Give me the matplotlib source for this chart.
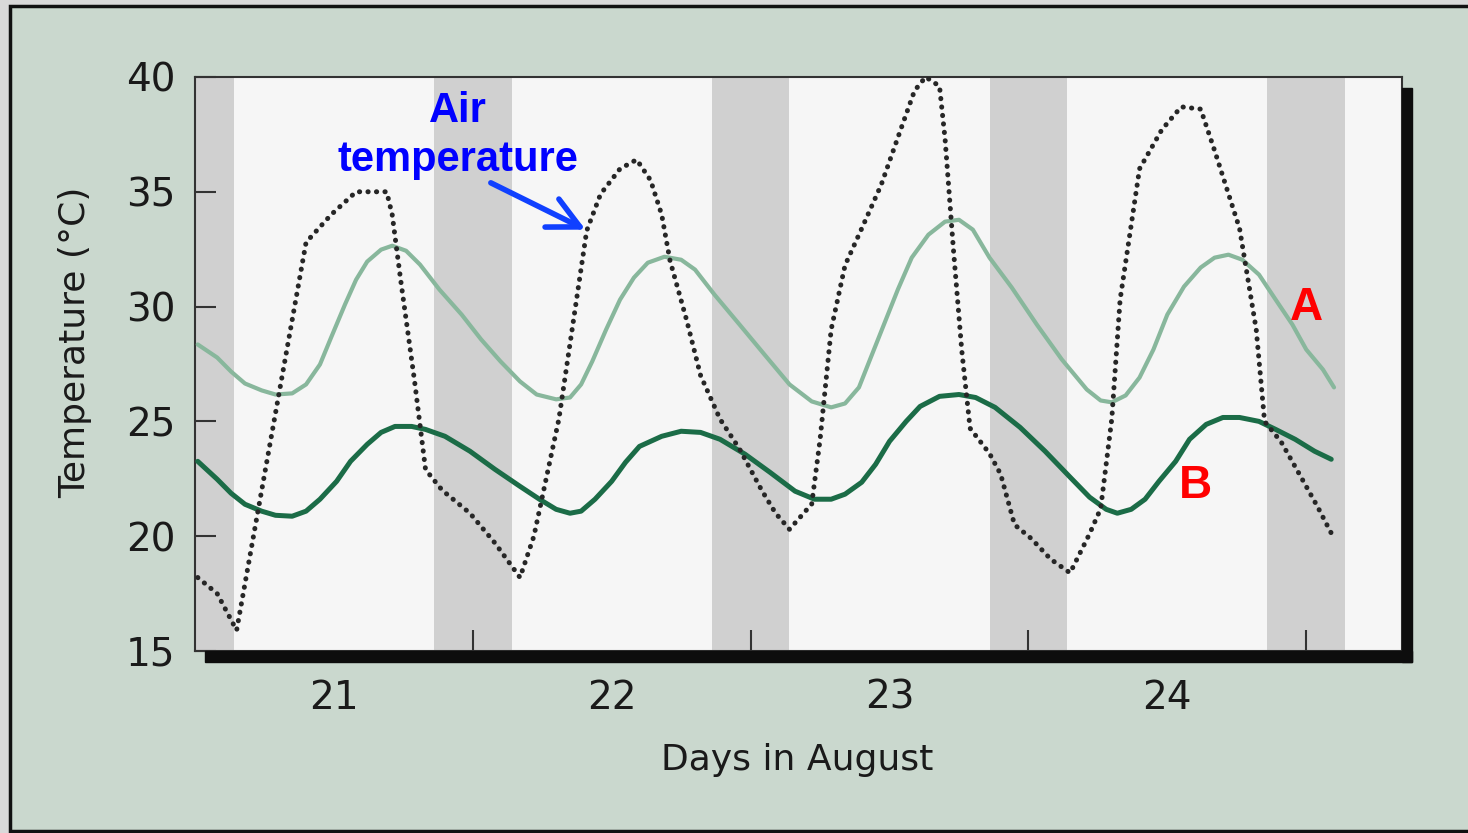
import matplotlib.pyplot as plt
from matplotlib.patches import Rectangle

# Data (x in days of August, y in deg C)
air_day = [21.01, 21.08, 21.15, 21.40, 21.49, 21.58, 21.69, 21.71, 21.74, 21.79,
           21.83, 21.89, 21.99, 22.08, 22.17, 22.22, 22.31, 22.41, 22.46, 22.53,
           22.59, 22.64, 22.68, 22.71, 22.77, 22.82, 22.89, 22.96, 23.04, 23.09,
           23.14, 23.22, 23.25, 23.29, 23.34, 23.40, 23.47, 23.54, 23.59, 23.63,
           23.68, 23.70, 23.73, 23.76, 23.79, 23.86, 23.90, 23.95, 24.01, 24.08,
           24.15, 24.22, 24.26, 24.30, 24.33, 24.40, 24.48, 24.55, 24.62, 24.67,
           24.76, 24.82, 24.85, 24.91, 24.98, 25.04, 25.10]
air_temp = [18.2, 17.5, 15.9, 32.8, 34.0, 35.0, 35.0, 34.0, 31.2, 26.8,
            22.9, 22.0, 21.0, 19.7, 18.2, 20.0, 25.1, 33.3, 34.9, 36.0,
            36.4, 35.5, 34.0, 32.0, 29.4, 27.0, 25.1, 23.8, 22.0, 21.0,
            20.3, 21.4, 24.2, 29.0, 31.8, 33.4, 35.3, 37.7, 39.4, 40.0,
            39.6, 37.3, 32.5, 28.1, 24.7, 23.6, 22.7, 20.5, 19.9, 19.0,
            18.4, 20.1, 21.2, 25.1, 30.3, 36.0, 37.7, 38.7, 38.6, 36.8,
            33.4, 29.0, 25.0, 24.1, 22.6, 21.3, 19.9]

a_day = [21.01, 21.08, 21.13, 21.18, 21.24, 21.29, 21.35, 21.40, 21.45, 21.49,
         21.54, 21.58, 21.62, 21.67, 21.71, 21.76, 21.81, 21.88, 21.96, 22.03,
         22.10, 22.17, 22.23, 22.30, 22.35, 22.39, 22.43, 22.48, 22.53, 22.58,
         22.63, 22.69, 22.75, 22.80, 22.87, 22.96, 23.05, 23.14, 23.22, 23.29,
         23.34, 23.39, 23.43, 23.48, 23.53, 23.58, 23.64, 23.70, 23.75, 23.80,
         23.86, 23.94, 24.03, 24.12, 24.21, 24.26, 24.30, 24.35, 24.40, 24.45,
         24.50, 24.56, 24.62, 24.67, 24.72, 24.77, 24.83, 24.89, 24.95, 25.00,
         25.06, 25.10]
a_temp = [28.35, 27.78, 27.17, 26.65, 26.35, 26.17, 26.22, 26.61, 27.48, 28.65,
          30.09, 31.17, 31.96, 32.48, 32.65, 32.43, 31.83, 30.74, 29.65, 28.57,
          27.61, 26.74, 26.17, 25.96, 26.04, 26.61, 27.61, 29.00, 30.30, 31.26,
          31.91, 32.17, 32.04, 31.61, 30.52, 29.22, 27.91, 26.61, 25.87, 25.61,
          25.78, 26.48, 27.70, 29.22, 30.74, 32.13, 33.13, 33.70, 33.78, 33.35,
          32.13, 30.83, 29.22, 27.70, 26.39, 25.91, 25.83, 26.13, 26.91, 28.13,
          29.65, 30.87, 31.70, 32.13, 32.26, 32.04, 31.39, 30.30, 29.22, 28.13,
          27.26, 26.48]

b_day = [21.01, 21.08, 21.13, 21.18, 21.24, 21.29, 21.35, 21.40, 21.45, 21.51,
         21.56, 21.62, 21.67, 21.72, 21.78, 21.83, 21.90, 21.99, 22.08, 22.17,
         22.24, 22.30, 22.35, 22.39, 22.44, 22.50, 22.55, 22.60, 22.68, 22.75,
         22.82, 22.89, 22.98, 23.07, 23.16, 23.23, 23.29, 23.34, 23.40, 23.45,
         23.50, 23.56, 23.61, 23.68, 23.75, 23.81, 23.88, 23.97, 24.06, 24.15,
         24.22, 24.28, 24.32, 24.37, 24.42, 24.47, 24.53, 24.58, 24.64, 24.70,
         24.76, 24.83, 24.89, 24.96, 25.03, 25.09]
b_temp = [23.26, 22.48, 21.87, 21.39, 21.09, 20.91, 20.87, 21.09, 21.61, 22.39,
          23.26, 24.00, 24.52, 24.78, 24.78, 24.65, 24.35, 23.70, 22.91, 22.17,
          21.61, 21.17, 21.00, 21.09, 21.61, 22.39, 23.22, 23.91, 24.35, 24.57,
          24.52, 24.22, 23.57, 22.78, 21.96, 21.61, 21.61, 21.83, 22.35, 23.13,
          24.13, 25.00, 25.65, 26.09, 26.17, 26.04, 25.61, 24.74, 23.70, 22.57,
          21.70, 21.17, 21.00, 21.17, 21.61, 22.39, 23.26, 24.22, 24.87, 25.17,
          25.17, 25.00, 24.65, 24.22, 23.70, 23.35]

night_centers = [21, 22, 23, 24, 25]
day_labels = ['21', '22', '23', '24']

fig = plt.figure(figsize=(14.68, 8.33), dpi=100, facecolor='#d9d9d9')
fig.patches.append(Rectangle((0.0068, 0.003), 1.0, 0.99, transform=fig.transFigure,
                             facecolor='#cad8ce', edgecolor='#111111', linewidth=2.5,
                             zorder=-10))

ax = fig.add_axes([0.1328, 0.2185, 0.8223, 0.6891])
ax.set_facecolor('#f6f6f6')

# night bands
for d in night_centers:
    ax.axvspan(d - 0.14, d + 0.14, color='#d0d0d0', lw=0, zorder=0)

ax.plot(a_day, a_temp, color='#88b79c', lw=3.0, zorder=3,
        solid_capstyle='round', solid_joinstyle='round')
ax.plot(b_day, b_temp, color='#1b6c47', lw=3.6, zorder=3,
        solid_capstyle='round', solid_joinstyle='round')
ax.plot(air_day, air_temp, color='#262626', lw=3.6, linestyle=(0, (0.05, 1.65)),
        dash_capstyle='round', zorder=4)

ax.set_xlim(21.0, 25.345)
ax.set_ylim(15, 40)

# labels at noon, tick marks at midnight
ax.set_xticks([21.5, 22.5, 23.5, 24.5])
ax.set_xticklabels(day_labels)
ax.set_xticks([22, 23, 24, 25], minor=True)
ax.tick_params(axis='x', which='major', length=0, pad=20, labelsize=28, labelcolor='#1a1a1a')
ax.tick_params(axis='x', which='minor', direction='in', length=15, width=1.5, color='#333333')
ax.set_yticks([15, 20, 25, 30, 35, 40])
ax.tick_params(axis='y', direction='in', length=15, width=1.5, color='#333333',
               pad=14, labelsize=28, labelcolor='#1a1a1a')

for s in ax.spines.values():
    s.set_color('#333333')
    s.set_linewidth(1.5)

# drop shadow along bottom and right edge
dx = 10 / 1207
dy = 11 / 574
ax.add_patch(Rectangle((dx, -dy), 1.0, dy, transform=ax.transAxes, color='#0d0d0d',
                       clip_on=False, zorder=5))
ax.add_patch(Rectangle((1.0, -dy), dx, 1.0, transform=ax.transAxes, color='#0d0d0d',
                       clip_on=False, zorder=5))

fig.text(0.051, 0.589, 'Temperature (°C)', rotation=90, ha='center', va='center',
         fontsize=26, color='#1a1a1a')
fig.text(0.543, 0.088, 'Days in August', ha='center', va='center',
         fontsize=26, color='#1a1a1a')

# annotations
ax.text(21.946, 37.45, 'Air\ntemperature', ha='center', va='center', fontsize=30,
        fontweight='bold', family='Liberation Sans', color='#0000ff',
        linespacing=1.3, zorder=6)
ax.annotate('', xy=(22.406, 33.35), xytext=(22.065, 35.39),
            arrowprops=dict(arrowstyle='->,head_length=0.9,head_width=0.45',
                            color='#1040ff', lw=4, shrinkA=0, shrinkB=0,
                            mutation_scale=25),
            zorder=6)
ax.text(25.0, 29.95, 'A', color='#ff0000', fontsize=33, fontweight='bold',
        family='Liberation Sans', ha='center', va='center', zorder=6)
ax.text(24.6, 22.2, 'B', color='#ff0000', fontsize=33, fontweight='bold',
        family='Liberation Sans', ha='center', va='center', zorder=6)

fig.savefig('out.png', dpi=100, facecolor=fig.get_facecolor())
